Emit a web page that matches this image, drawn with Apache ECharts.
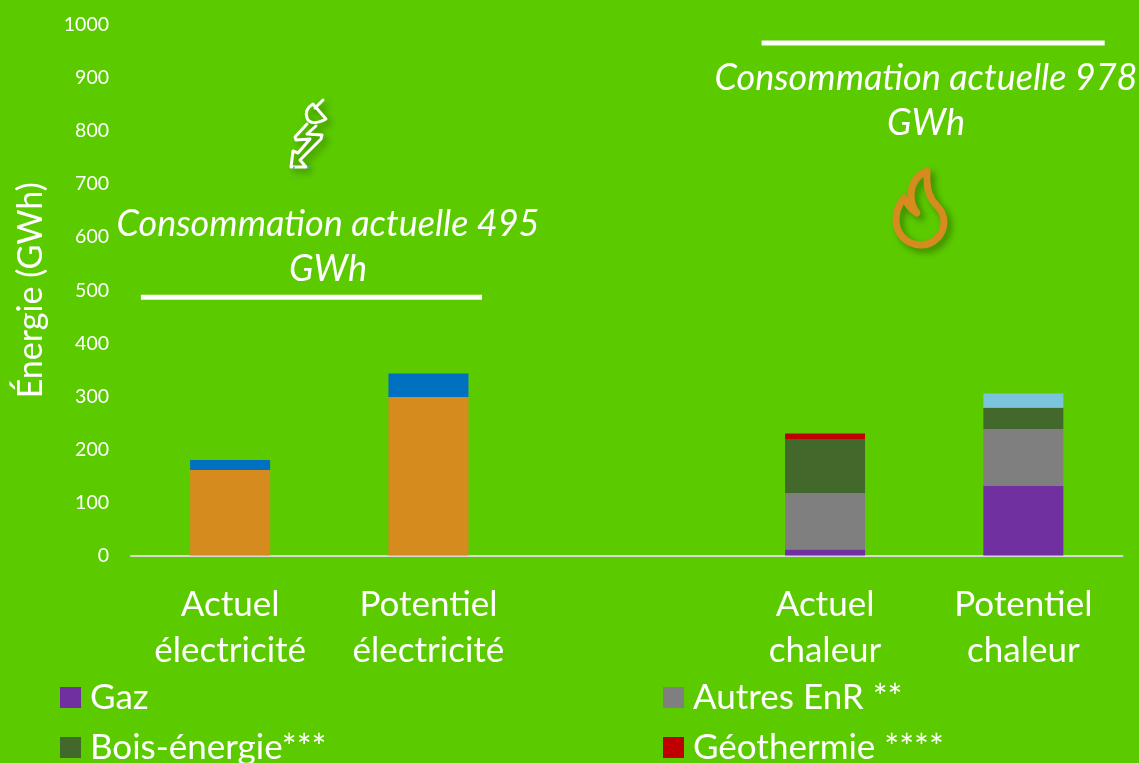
<!DOCTYPE html>
<html>
<head>
<meta charset="utf-8">
<style>html,body{margin:0;padding:0;background:#5BCB00;overflow:hidden}#c{width:1139px;height:763px}</style>
<script src="https://cdn.jsdelivr.net/npm/echarts@6/dist/echarts.min.js"></script>
</head>
<body>
<div id="c"></div>
<script>
const categories = ['Actuel\nélectricité', 'Potentiel\nélectricité', '', 'Actuel\nchaleur', 'Potentiel\nchaleur'];
const orangeValues = [161, 299, null, null, null];
const blueValues = [19, 44, null, null, null];
const gazValues = [null, null, null, 11.5, 131.5];
const autresValues = [null, null, null, 106.5, 107];
const boisValues = [null, null, null, 101.5, 40];
const geoValues = [null, null, null, 10.5, null];
const lightBlueValues = [null, null, null, null, 27];
const elecLevel = [[0.05, 487], [1.77, 487]];
const heatLevel = [[3.18, 966], [4.91, 966]];
const F = 'Lato, "Open Sans", sans-serif';
const BG = '#5BCB00';

echarts.graphic.registerShape('flameIcon', echarts.graphic.extendPath('M927 171 C926 190 930 199 937 206 C943 212 944 218 944 222 C944 235 933 245 921 245 C907 245 896 234 896 220 C896 210 899 204 904 198 C907 204 911 210 917 213 C910 204 909 190 915 181 C918 176 922 173 927 171 Z', {}));
echarts.graphic.registerShape('boltIcon', echarts.graphic.extendPath('M323 100 L315 108 M313 104 L326 119 C317 124 309 124 307 118 C305 112 308 107 313 104 Z M307 124 L295 137 L296 140 L310 139 L298 153 L293 151 L291 167 L306 167 L300 160 L321 139 L322 135 L307 134 L316 126', {}));
echarts.graphic.registerShape('boltSpecks', echarts.graphic.extendPath('M294 167 L293 169 M297 175.5 L297 176 M310 166 L308 168', {}));

function bar(name, data, color) {
  return { name, type: 'bar', stack: 'total', data, barWidth: 80, itemStyle: { color }, emphasis: { disabled: true } };
}
function level(data) {
  return { type: 'line', xAxisIndex: 1, yAxisIndex: 0, data, symbol: 'none', silent: true,
    lineStyle: { color: '#fff', width: 5 }, z: 5, animation: false };
}
function caption(text, x, y) {
  return { type: 'text', x, y, style: { text, fill: '#fff', font: 'italic 36px ' + F, textAlign: 'center', textVerticalAlign: 'middle' } };
}
function legendItem(name, left, top) {
  return { left, top, data: [name], itemWidth: 21, itemHeight: 21, icon: 'rect', selectedMode: false, padding: 0,
    textStyle: { color: '#fff', fontFamily: F, fontSize: 35, padding: [0, 0, 0, 4] } };
}
const shadow = { shadowBlur: 7, shadowOffsetX: 4, shadowOffsetY: 4, shadowColor: 'rgba(0,0,0,0.35)' };

const chart = echarts.init(document.getElementById('c'));
chart.setOption({
  animation: false,
  backgroundColor: BG,
  grid: { left: 131, right: 16.5, top: 25, bottom: 207.5 },
  xAxis: [
    { type: 'category', data: categories, axisTick: { show: false },
      axisLine: { lineStyle: { color: '#D9D9D9', width: 2 } },
      axisLabel: { interval: 0, color: '#fff', fontFamily: F, fontSize: 35, lineHeight: 46, margin: 26 } },
    { type: 'value', min: 0, max: 5, show: false }
  ],
  yAxis: { type: 'value', min: 0, max: 1000, interval: 100, splitLine: { show: false }, axisLine: { show: false }, axisTick: { show: false },
    axisLabel: { color: '#fff', fontFamily: F, fontSize: 19.5, margin: 22, formatter: v => String(v) },
    name: 'Énergie (GWh)', nameLocation: 'middle', nameRotate: 90, nameGap: 83,
    nameTextStyle: { color: '#fff', fontFamily: F, fontSize: 34 } },
  legend: [
    legendItem('Gaz', 60, 680),
    legendItem('Bois-énergie***', 60, 730),
    legendItem('Autres EnR **', 663, 680),
    legendItem('Géothermie ****', 663, 730)
  ],
  series: [
    bar('Série orange', orangeValues, '#D68B1F'),
    bar('Série bleue', blueValues, '#0070C0'),
    bar('Gaz', gazValues, '#7030A0'),
    bar('Autres EnR **', autresValues, '#7F7F7F'),
    bar('Bois-énergie***', boisValues, '#43682B'),
    bar('Géothermie ****', geoValues, '#C00000'),
    bar('Série bleu clair', lightBlueValues, '#7CC4DC'),
    level(elecLevel),
    level(heatLevel)
  ],
  graphic: [
    caption('Consommation actuelle 495', 328, 224),
    caption('GWh', 328, 269),
    caption('Consommation actuelle 978', 926, 78),
    caption('GWh', 926, 123),
    { type: 'flameIcon', style: Object.assign({ fill: 'none', stroke: '#D68B1F', lineWidth: 7, lineJoin: 'round' }, shadow) },
    { type: 'boltIcon', style: Object.assign({ fill: 'none', stroke: '#fff', lineWidth: 3, lineJoin: 'round', lineCap: 'round' }, shadow) },
    { type: 'boltSpecks', style: { fill: 'none', stroke: '#4A9FD0', lineWidth: 1.5, lineCap: 'round' } }
  ]
});
</script>
</body>
</html>
